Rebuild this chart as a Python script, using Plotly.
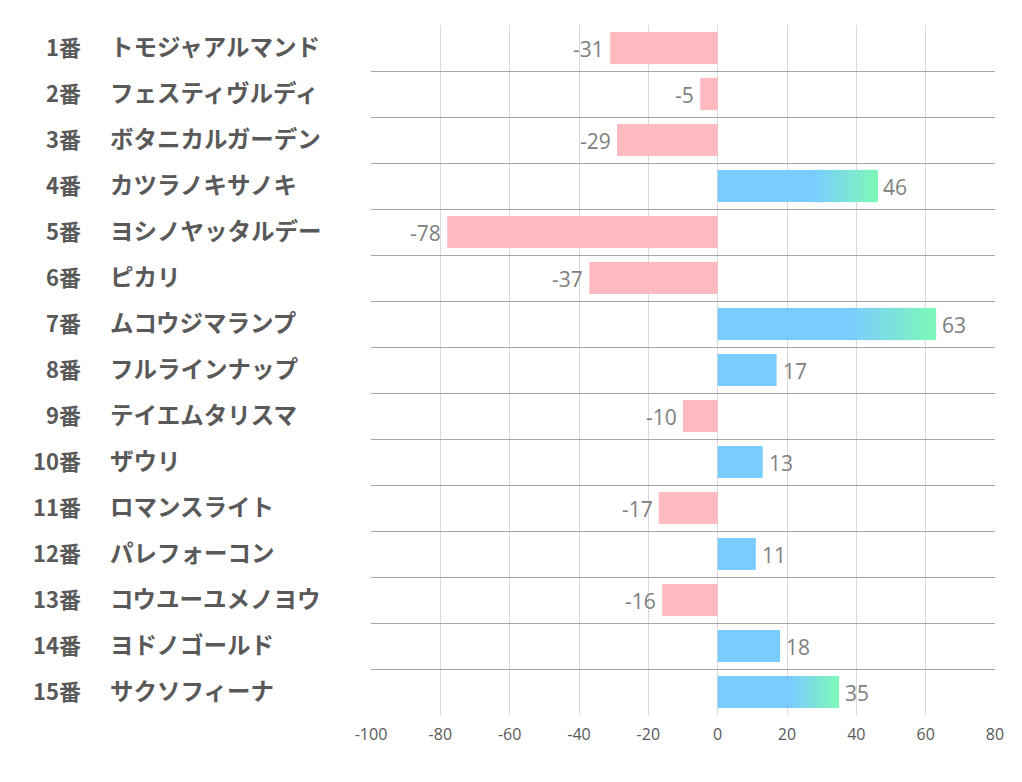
import plotly.graph_objects as go

numbers = ["1番", "2番", "3番", "4番", "5番", "6番", "7番", "8番", "9番", "10番",
           "11番", "12番", "13番", "14番", "15番"]
names = ["トモジャアルマンド", "フェスティヴルディ", "ボタニカルガーデン", "カツラノキサノキ",
         "ヨシノヤッタルデー", "ピカリ", "ムコウジマランプ", "フルラインナップ", "テイエムタリスマ",
         "ザウリ", "ロマンスライト", "パレフォーコン", "コウユーユメノヨウ", "ヨドノゴールド",
         "サクソフィーナ"]
values = [-31, -5, -29, 46, -78, -37, 63, 17, -10, 13, -17, 11, -16, 18, 35]
x_ticks = [-100, -80, -60, -40, -20, 0, 20, 40, 60, 80]

PINK = "rgba(255,179,184,0.9)"
BLUE_T = "rgba(108,197,255,0.9)"
BLUE = (123, 203, 255)   # as seen on white
GREEN = (125, 248, 185)

y_plain, x_plain, c_plain = [], [], []
seg_y, seg_len, seg_base, seg_col = [], [], [], []
N = 60
for i, v in enumerate(values):
    y_plain.append(i); x_plain.append(v)
    c_plain.append(PINK if v < 0 else BLUE_T)
    if v >= 30:
        start = v * 0.6
        step = (v - start) / N
        for k in range(N):
            t = (k + 0.5) / N
            c = tuple(round(BLUE[j] + (GREEN[j] - BLUE[j]) * t) for j in range(3))
            seg_y.append(i)
            seg_len.append(step * (1.6 if k < N - 1 else 1.0))
            seg_base.append(start + k * step)
            seg_col.append(f"rgb({c[0]},{c[1]},{c[2]})")

fig = go.Figure()
fig.add_trace(go.Bar(
    y=y_plain, x=x_plain, orientation="h",
    marker=dict(color=c_plain, line=dict(width=0)),
    width=0.7, hoverinfo="skip", showlegend=False,
))
fig.add_trace(go.Bar(
    y=seg_y, x=seg_len, base=seg_base, orientation="h",
    marker=dict(color=seg_col, line=dict(width=0)),
    width=0.7, hoverinfo="skip", showlegend=False,
))

annotations = []
for i, v in enumerate(values):
    annotations.append(dict(
        x=v, y=i, xref="x", yref="y", text=str(v), showarrow=False,
        xanchor="left" if v > 0 else "right", xshift=4 if v > 0 else -4, yshift=-1,
        font=dict(size=21, color="#808080", family="Open Sans, Noto Sans CJK JP"),
    ))
    annotations.append(dict(
        x=-0.4615, y=i, xref="paper", yref="y", text=f"<b>{numbers[i]}</b>", showarrow=False,
        xanchor="right", yshift=2, font=dict(size=22, color="#595959", family="Noto Sans CJK JP"),
    ))
    annotations.append(dict(
        x=-0.4215, y=i, xref="paper", yref="y", text=f"<b>{names[i]}</b>", showarrow=False,
        xanchor="left", yshift=2, font=dict(size=23.5, color="#595959", family="Noto Sans CJK JP"),
    ))

fig.update_layout(
    width=1014, height=774,
    margin=dict(l=363, r=27, t=17, b=67),
    paper_bgcolor="white", plot_bgcolor="white",
    barmode="overlay",
    annotations=annotations,
    xaxis=dict(
        range=[-100, 80], tickvals=x_ticks, ticktext=[str(t) for t in x_ticks],
        showgrid=True, gridcolor="#d9d9d9", gridwidth=1, zeroline=False,
        tickfont=dict(size=16, color="#595959", family="Open Sans"),
        ticks="", ticklabelstandoff=8, showline=False,
    ),
    yaxis=dict(
        range=[14.5, -0.5], tickvals=[i - 0.5 for i in range(16)],
        showticklabels=False, showgrid=True, gridcolor="#a6a6a6", gridwidth=1,
        zeroline=False, ticks="",
    ),
)

fig.write_html("out.html")
